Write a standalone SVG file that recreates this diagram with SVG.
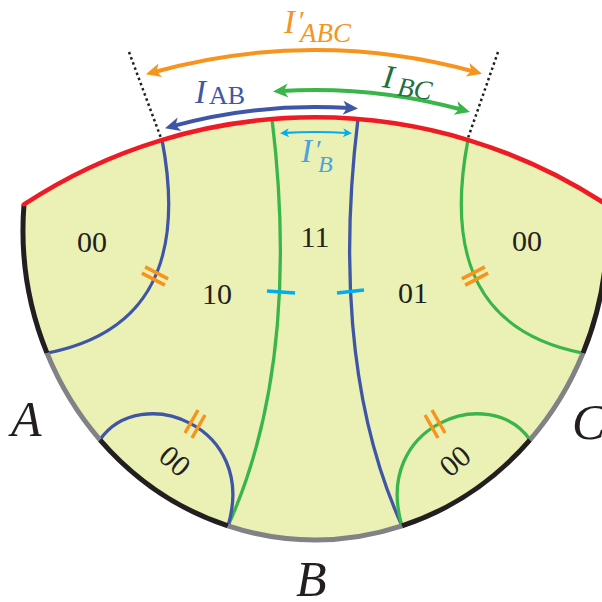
<svg xmlns="http://www.w3.org/2000/svg" width="602" height="602" viewBox="0 0 602 602">
<style>
.fill{fill:#ebf0b5;stroke:none}
.bk{fill:none;stroke:#231f20;stroke-width:5}
.gr{fill:none;stroke:#808285;stroke-width:5}
.red{fill:none;stroke:#ed1c24;stroke-width:4.5;stroke-linecap:round}
.cb{fill:none;stroke:#3f56a6;stroke-width:3.3}
.cg{fill:none;stroke:#3ab54a;stroke-width:3.3}
.tk{stroke:#f7941d;stroke-width:3.5}
.tc{stroke:#00aeef;stroke-width:3.5}
.dot{fill:none;stroke:#231f20;stroke-width:2.5;stroke-dasharray:2.5 3}
text{font-family:'Liberation Serif','DejaVu Serif','Times New Roman',serif}
.num{font-size:30px;fill:#231f20;text-anchor:middle}
.big{font-style:italic;font-size:50px;fill:#231f20}
.lab{font-style:italic}
</style>
<defs>
<marker id="mo" markerUnits="userSpaceOnUse" viewBox="-2 -10 20 20" markerWidth="20" markerHeight="20" refX="7" refY="0" orient="auto-start-reverse"><path d="M15,0 L0,-7 L4,0 L0,7 Z" fill="#f7941d"/></marker>
<marker id="mb" markerUnits="userSpaceOnUse" viewBox="-2 -10 20 20" markerWidth="20" markerHeight="20" refX="7" refY="0" orient="auto-start-reverse"><path d="M15,0 L0,-7 L4,0 L0,7 Z" fill="#3f56a6"/></marker>
<marker id="mg" markerUnits="userSpaceOnUse" viewBox="-2 -10 20 20" markerWidth="20" markerHeight="20" refX="7" refY="0" orient="auto-start-reverse"><path d="M15,0 L0,-7 L4,0 L0,7 Z" fill="#3ab54a"/></marker>
<marker id="mc" markerUnits="userSpaceOnUse" viewBox="-2 -10 20 20" markerWidth="20" markerHeight="20" refX="4" refY="0" orient="auto-start-reverse"><path d="M9,0 L0,-4.5 L2.5,0 L0,4.5 Z" fill="#00aeef"/></marker>
</defs>

<g id="region">
<path class="fill" d="M24,204.4 A530,530 0 0 1 606,204.4 A292,310 0 1 1 24,204.4 Z"/>
</g>

<g id="connectors">
<path class="cb" d="M162,139.6 C185,260 150,333 47,353.1"/>
<path class="cg" d="M468,139.6 C445,260 480,333 583,353.1"/>
<path class="cg" d="M272,118.7 C288,250 285,400 228,525.9"/>
<path class="cb" d="M358,118.7 C342,250 345,400 402,525.9"/>
<path class="cb" d="M100,439.8 C140,382 258,425 228,525.9"/>
<path class="cg" d="M530,439.8 C490,382 372,425 402,525.9"/>
</g>

<g id="boundary">
<path class="bk" d="M24,204.4 A292,310 0 0 0 47,353.1"/>
<path class="gr" d="M47,353.1 A292,310 0 0 0 100,439.8"/>
<path class="bk" d="M100,439.8 A292,310 0 0 0 228,525.9"/>
<path class="gr" d="M228,525.9 A292,310 0 0 0 402,525.9"/>
<path class="bk" d="M402,525.9 A292,310 0 0 0 530,439.8"/>
<path class="gr" d="M530,439.8 A292,310 0 0 0 583,353.1"/>
<path class="bk" d="M583,353.1 A292,310 0 0 0 606,204.4"/>
<path class="red" d="M24,204.4 A530,530 0 0 1 606,204.4"/>
</g>

<g id="ticks">
<line class="tk" x1="145.1" y1="266.9" x2="168.1" y2="278.9"/>
<line class="tk" x1="141.9" y1="273.1" x2="164.9" y2="285.1"/>
<line class="tk" x1="484.9" y1="266.9" x2="461.9" y2="278.9"/>
<line class="tk" x1="488.1" y1="273.1" x2="465.1" y2="285.1"/>
<line class="tk" x1="185" y1="433" x2="198" y2="410"/>
<line class="tk" x1="192" y1="438" x2="205" y2="415"/>
<line class="tk" x1="445" y1="433" x2="432" y2="410"/>
<line class="tk" x1="438" y1="438" x2="425" y2="415"/>
<line class="tc" x1="267" y1="291" x2="295" y2="293"/>
<line class="tc" x1="337" y1="293" x2="364" y2="290"/>
</g>

<g id="dotted">
<line class="dot" x1="129" y1="52" x2="161" y2="138"/>
<line class="dot" x1="498" y1="52" x2="468" y2="138"/>
</g>

<g id="arrows">
<path d="M153.6,72.2 A597,597 0 0 1 474.3,71.7" fill="none" stroke="#f7941d" stroke-width="4" marker-start="url(#mo)" marker-end="url(#mo)"/>
<path d="M172.7,126.1 A540,540 0 0 1 350,108.1" fill="none" stroke="#3f56a6" stroke-width="4" marker-start="url(#mb)" marker-end="url(#mb)"/>
<path d="M281,91 A557,557 0 0 1 462.3,109.8" fill="none" stroke="#3ab54a" stroke-width="4" marker-start="url(#mg)" marker-end="url(#mg)"/>
<path d="M285,132.9 A515,515 0 0 1 347,133" fill="none" stroke="#00aeef" stroke-width="2.2" marker-start="url(#mc)" marker-end="url(#mc)"/>
</g>

<g id="labels">
<text class="lab" fill="#f7941d"><tspan x="284" y="33" font-size="33">I</tspan><tspan x="299" y="30" font-size="28" font-style="normal">′</tspan><tspan x="300" y="42" font-size="27">ABC</tspan></text>
<text class="lab" fill="#3f56a6"><tspan x="195" y="103" font-size="33">I</tspan><tspan x="209" y="104" font-size="26" font-style="normal">AB</tspan></text>
<text class="lab" fill="#23703c" transform="rotate(8 410 85)"><tspan x="382" y="91" font-size="33">I</tspan><tspan x="398" y="97" font-size="27">BC</tspan></text>
<text class="lab" fill="#4ba3dd"><tspan x="301" y="162" font-size="33">I</tspan><tspan x="316" y="159" font-size="28" font-style="normal">′</tspan><tspan x="318" y="172" font-size="24">B</tspan></text>
</g>

<g id="regions">
<text class="num" x="92" y="252">00</text>
<text class="num" x="217" y="304">10</text>
<text class="num" x="315" y="247">11</text>
<text class="num" x="413" y="303">01</text>
<text class="num" x="527" y="251">00</text>
<text class="num" transform="translate(175,461) rotate(40)" y="10">00</text>
<text class="num" transform="translate(455,461) rotate(-40)" y="10">00</text>
</g>

<g id="vertices">
<text class="big" x="11" y="436">A</text>
<text class="big" x="296" y="596">B</text>
<text class="big" x="572" y="439">C</text>
</g>
</svg>
